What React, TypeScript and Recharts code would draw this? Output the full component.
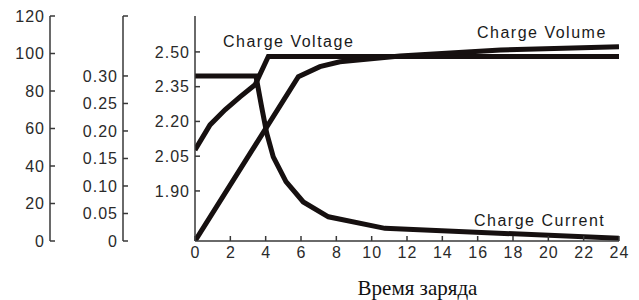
import { LineChart, Line, XAxis, YAxis } from "recharts";

// time axis (hours)
const timeTicks = [0, 2, 4, 6, 8, 10, 12, 14, 16, 18, 20, 22, 24];

// charge voltage, V per cell
const voltageTime = [0, 0.85, 1.7, 2.55, 3.4, 4.15, 24];
const voltageValues = [2.077, 2.185, 2.25, 2.306, 2.358, 2.48, 2.48];

// charge current, C
const currentTime = [0, 3.45, 3.77, 4.06, 4.43, 5.15, 6.13, 7.55, 10.75, 24];
const currentValues = [0.3, 0.3, 0.244, 0.196, 0.153, 0.108, 0.071, 0.044, 0.023, 0.005];

// charge volume, %
const volumeTime = [0, 5.85, 7.07, 8.2, 11.6, 17.3, 24];
const volumeValues = [0, 87.6, 93, 95.6, 98.7, 101.9, 103.6];

const volumeTicks = [0, 20, 40, 60, 80, 100, 120];
const currentTicks = [0, 0.05, 0.1, 0.15, 0.2, 0.25, 0.3, 0.409];
const voltageTicks = [1.9, 2.05, 2.2, 2.35, 2.5];
const frameTicks = [0, 1, 2, 3];

const voltageData = voltageTime.map((t, i) => ({ t, v: voltageValues[i] }));
const currentData = currentTime.map((t, i) => ({ t, v: currentValues[i] }));
const volumeData = volumeTime.map((t, i) => ({ t, v: volumeValues[i] }));

const INK = "#161010";
const AXIS = "#383838";
const FONT = "'Liberation Sans', Arial, sans-serif";

// left axes are stacked by id: a_ sits next to the plot, c_ is the outermost
const VOLT = "a_volt";
const CUR = "b_cur";
const VOL = "c_vol";

function makeYTick(format: (v: number) => string) {
  return (props: any) => {
    const { x, y, payload } = props;
    const label = format(payload.value);
    return (
      <g>
        <line x1={x} y1={y} x2={x + 5} y2={y} stroke={AXIS} strokeWidth={1.5} />
        {label !== "" && (
          <text
            x={x - 5}
            y={y + 5.7}
            textAnchor="end"
            fontSize={16}
            letterSpacing={1}
            fill="#2a2a2a"
            fontFamily={FONT}
          >
            {label}
          </text>
        )}
      </g>
    );
  };
}

const XTick = (props: any) => {
  const { x, y, payload } = props;
  return (
    <g>
      <line x1={x} y1={y} x2={x} y2={y - 5} stroke={AXIS} strokeWidth={1.5} />
      <text
        x={x + 0.5}
        y={y + 17.3}
        textAnchor="middle"
        fontSize={16}
        letterSpacing={1}
        fill="#2a2a2a"
        fontFamily={FONT}
      >
        {payload.value}
      </text>
    </g>
  );
};

const FrameTick = (props: any) => {
  const { x, y } = props;
  return <line x1={x} y1={y} x2={x - 5} y2={y} stroke={AXIS} strokeWidth={1.5} />;
};

export default function App() {
  const axisLine = { stroke: AXIS, strokeWidth: 1.5 };
  return (
    <div style={{ position: "absolute", left: 0, top: 0, width: 639, height: 300, background: "#fff" }}>
      <LineChart width={639} height={300} margin={{ top: 16, right: 20, bottom: 0, left: 0 }}>
        <XAxis
          xAxisId="time"
          dataKey="t"
          type="number"
          domain={[0, 24]}
          ticks={timeTicks}
          interval={0}
          height={59}
          tickSize={0}
          tickMargin={0}
          tickLine={false}
          axisLine={axisLine}
          tick={XTick}
          allowDataOverflow
        />
        <XAxis
          xAxisId="top"
          orientation="top"
          type="number"
          domain={[0, 24]}
          height={0}
          tick={false}
          tickLine={false}
          axisLine={axisLine}
        />
        <YAxis
          yAxisId={VOL}
          type="number"
          domain={[0, 120]}
          ticks={volumeTicks}
          interval={0}
          width={50}
          tickSize={0}
          tickMargin={0}
          tickLine={false}
          axisLine={axisLine}
          tick={makeYTick((v) => String(v))}
          allowDataOverflow
        />
        <YAxis
          yAxisId={CUR}
          type="number"
          domain={[0, 0.409]}
          ticks={currentTicks}
          interval={0}
          width={73}
          tickSize={0}
          tickMargin={0}
          tickLine={false}
          axisLine={axisLine}
          tick={makeYTick((v) => (v === 0 ? "0" : v > 0.31 ? "" : v.toFixed(2)))}
          allowDataOverflow
        />
        <YAxis
          yAxisId={VOLT}
          type="number"
          domain={[1.684, 2.655]}
          ticks={voltageTicks}
          interval={0}
          width={72}
          tickSize={0}
          tickMargin={0}
          tickLine={false}
          axisLine={axisLine}
          tick={makeYTick((v) => v.toFixed(2))}
          allowDataOverflow
        />
        <YAxis
          yAxisId="frame"
          orientation="right"
          type="number"
          domain={[-1.29, 3.885]}
          ticks={frameTicks}
          interval={0}
          width={0}
          tickSize={0}
          tickMargin={0}
          tickLine={false}
          axisLine={axisLine}
          tick={FrameTick}
          allowDataOverflow
        />
        <Line
          xAxisId="time"
          yAxisId={VOLT}
          data={voltageData}
          dataKey="v"
          type="linear"
          stroke={INK}
          strokeWidth={5}
          dot={false}
          isAnimationActive={false}
        />
        <Line
          xAxisId="time"
          yAxisId={CUR}
          data={currentData}
          dataKey="v"
          type="linear"
          stroke={INK}
          strokeWidth={5}
          dot={false}
          isAnimationActive={false}
        />
        <Line
          xAxisId="time"
          yAxisId={VOL}
          data={volumeData}
          dataKey="v"
          type="linear"
          stroke={INK}
          strokeWidth={5}
          dot={false}
          isAnimationActive={false}
        />
      </LineChart>
      <svg
        width={639}
        height={300}
        style={{ position: "absolute", left: 0, top: 0, pointerEvents: "none" }}
      >
        <g fontFamily={FONT} fontSize={16} letterSpacing={1.5} fill="#1a1a1a">
          <text x={223} y={46.7}>Charge Voltage</text>
          <text x={477} y={38.3}>Charge Volume</text>
          <text x={474} y={225.7}>Charge Current</text>
        </g>
        <text
          x={417.5}
          y={295}
          textAnchor="middle"
          fontFamily="'Liberation Serif', 'Times New Roman', serif"
          fontSize={21}
          fill="#111"
        >
          Время заряда
        </text>
      </svg>
    </div>
  );
}
